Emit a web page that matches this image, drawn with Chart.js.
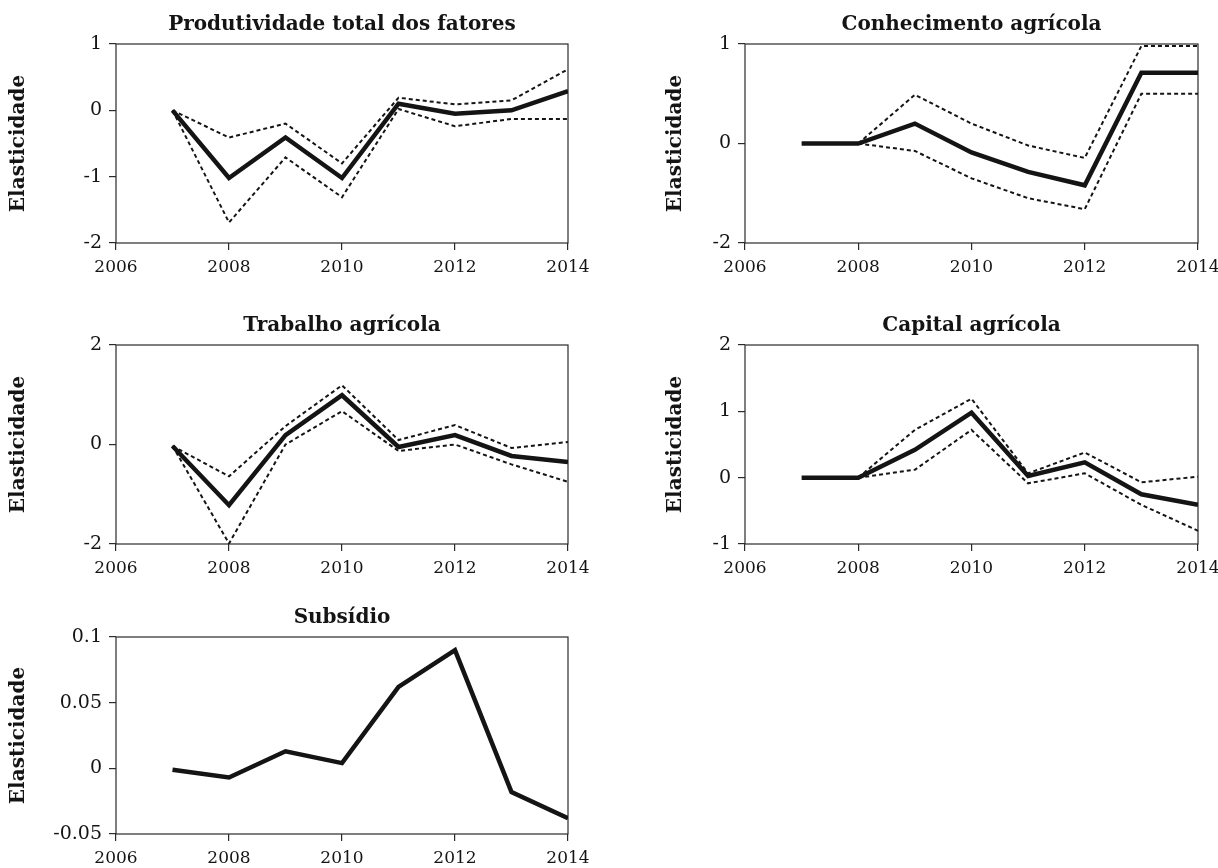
<!DOCTYPE html>
<html>
<head>
<meta charset="utf-8">
<title>Elasticidades</title>
<script src="https://cdn.jsdelivr.net/npm/chart.js@4.4.1/dist/chart.umd.min.js"></script>
<style>
  html, body { margin: 0; padding: 0; background: #fff; width: 1218px; height: 868px; overflow: hidden; }
  canvas { position: absolute; }
</style>
</head>
<body>
<canvas id="ptf" width="600" height="283" style="left:0px;top:0px"></canvas>
<canvas id="conhecimento" width="600" height="283" style="left:629px;top:0px"></canvas>
<canvas id="trabalho" width="600" height="283" style="left:0px;top:301px"></canvas>
<canvas id="capital" width="600" height="283" style="left:629px;top:301px"></canvas>
<canvas id="subsidio" width="600" height="281" style="left:0px;top:593px"></canvas>
<script>
// Years of the estimates and shared x-axis ticks
const years = [2007, 2008, 2009, 2010, 2011, 2012, 2013, 2014];
const xTickValues = [2006, 2008, 2010, 2012, 2014];
const xTickLabels = ['2006', '2008', '2010', '2012', '2014'];

// Produtividade total dos fatores: estimate and confidence bounds
const ptfEstimate = [0, -1.02, -0.41, -1.02, 0.10, -0.05, 0.00, 0.29];
const ptfUpper    = [0, -0.41, -0.20, -0.80, 0.19, 0.09, 0.15, 0.62];
const ptfLower    = [0, -1.69, -0.71, -1.31, 0.02, -0.24, -0.13, -0.13];
const ptfTickValues = [-2, -1, 0, 1];
const ptfTickLabels = ['-2', '-1', '0', '1'];

// Conhecimento agrícola
const conhEstimate = [0, 0, 0.20, -0.09, -0.285, -0.42, 0.71, 0.71];
const conhUpper    = [null, 0, 0.49, 0.20, -0.02, -0.145, 0.98, 0.98];
const conhLower    = [null, 0, -0.075, -0.35, -0.55, -0.66, 0.50, 0.50];
const conhTickValues = [-1, 0, 1];
const conhTickLabels = ['-2', '0', '1'];

// Trabalho agrícola
const trabEstimate = [-0.03, -1.22, 0.19, 0.99, -0.05, 0.19, -0.23, -0.35];
const trabUpper    = [-0.03, -0.64, 0.37, 1.19, 0.09, 0.39, -0.07, 0.05];
const trabLower    = [-0.03, -1.99, 0.00, 0.67, -0.13, 0.00, -0.40, -0.75];
const trabTickValues = [-2, 0, 2];
const trabTickLabels = ['-2', '0', '2'];

// Capital agrícola
const capEstimate = [0, 0, 0.42, 0.98, 0.025, 0.23, -0.25, -0.41];
const capUpper    = [null, 0, 0.72, 1.19, 0.065, 0.38, -0.07, 0.015];
const capLower    = [null, 0, 0.12, 0.72, -0.085, 0.065, -0.41, -0.80];
const capTickValues = [-1, 0, 1, 2];
const capTickLabels = ['-1', '0', '1', '2'];

// Subsídio
const subEstimate = [-0.001, -0.007, 0.013, 0.004, 0.062, 0.090, -0.018, -0.038];
const subTickValues = [-0.05, 0, 0.05, 0.1];
const subTickLabels = ['-0.05', '0', '0.05', '0.1'];

const SERIF = "'DejaVu Serif', 'Liberation Serif', serif";
const INK = '#141414';
const AXIS = '#2a2a2a';

function points(values) {
  return years.map((x, i) => ({ x: x, y: values[i] }));
}

// Closed box around the plotting area
const framePlugin = {
  id: 'frame',
  beforeDatasetsDraw(chart) {
    const { ctx, chartArea: a } = chart;
    ctx.save();
    ctx.strokeStyle = AXIS;
    ctx.lineWidth = 1.2;
    ctx.strokeRect(a.left, a.top, a.right - a.left, a.bottom - a.top);
    ctx.restore();
  }
};

function makePanel(cfg) {
  const datasets = [{
    data: points(cfg.estimate),
    borderColor: INK,
    borderWidth: 4.5,
    borderJoinStyle: 'miter',
    pointRadius: 0,
    tension: 0
  }];
  [cfg.upper, cfg.lower].forEach(b => {
    if (!b) return;
    datasets.push({
      data: points(b),
      borderColor: INK,
      borderWidth: 2,
      borderDash: [4, 3],
      pointRadius: 0,
      tension: 0
    });
  });

  const tickGrid = {
    display: true,
    drawOnChartArea: false,
    drawTicks: true,
    tickLength: 7,
    color: AXIS,
    lineWidth: 1.2
  };

  new Chart(document.getElementById(cfg.id), {
    type: 'line',
    data: { datasets },
    options: {
      responsive: false,
      animation: false,
      devicePixelRatio: 1,
      layout: { padding: { left: 0, right: cfg.padRight, top: 0, bottom: 0 } },
      plugins: {
        legend: { display: false },
        tooltip: { enabled: false },
        title: {
          display: true,
          fullSize: false,
          text: cfg.title,
          color: INK,
          font: { family: SERIF, size: 20, weight: 'bold' },
          padding: { top: 12.5, bottom: 7.5 }
        }
      },
      scales: {
        x: {
          type: 'linear',
          min: 2006,
          max: 2014,
          afterBuildTicks: s => { s.ticks = xTickValues.map(v => ({ value: v })); },
          afterFit: s => { s.height = 40; },
          ticks: {
            callback: (v, i) => xTickLabels[i],
            font: { family: SERIF, size: 17 },
            color: INK,
            padding: 7,
            maxRotation: 0,
            autoSkip: false
          },
          grid: tickGrid,
          border: { display: false }
        },
        y: {
          type: 'linear',
          min: cfg.tickValues[0],
          max: cfg.tickValues[cfg.tickValues.length - 1],
          afterBuildTicks: s => { s.ticks = cfg.tickValues.map(v => ({ value: v })); },
          afterFit: s => { s.width = 116; },
          ticks: {
            callback: (v, i) => cfg.tickLabels[i],
            font: { family: SERIF, size: 19 },
            color: INK,
            padding: 7,
            autoSkip: false
          },
          title: {
            display: true,
            text: 'Elasticidade',
            color: INK,
            font: { family: SERIF, size: 20, weight: 'bold' },
            padding: { top: cfg.yTitlePad, bottom: 0 }
          },
          grid: tickGrid,
          border: { display: false }
        }
      }
    },
    plugins: [framePlugin]
  });
}

makePanel({ id: 'ptf', title: 'Produtividade total dos fatores', estimate: ptfEstimate, upper: ptfUpper, lower: ptfLower,
  tickValues: ptfTickValues, tickLabels: ptfTickLabels, padRight: 32, yTitlePad: 7 });
makePanel({ id: 'conhecimento', title: 'Conhecimento agrícola', estimate: conhEstimate, upper: conhUpper, lower: conhLower,
  tickValues: conhTickValues, tickLabels: conhTickLabels, padRight: 31, yTitlePad: 34.5 });
makePanel({ id: 'trabalho', title: 'Trabalho agrícola', estimate: trabEstimate, upper: trabUpper, lower: trabLower,
  tickValues: trabTickValues, tickLabels: trabTickLabels, padRight: 32, yTitlePad: 7 });
makePanel({ id: 'capital', title: 'Capital agrícola', estimate: capEstimate, upper: capUpper, lower: capLower,
  tickValues: capTickValues, tickLabels: capTickLabels, padRight: 31, yTitlePad: 34.5 });
makePanel({ id: 'subsidio', title: 'Subsídio', estimate: subEstimate,
  tickValues: subTickValues, tickLabels: subTickLabels, padRight: 32, yTitlePad: 7 });
</script>
</body>
</html>
